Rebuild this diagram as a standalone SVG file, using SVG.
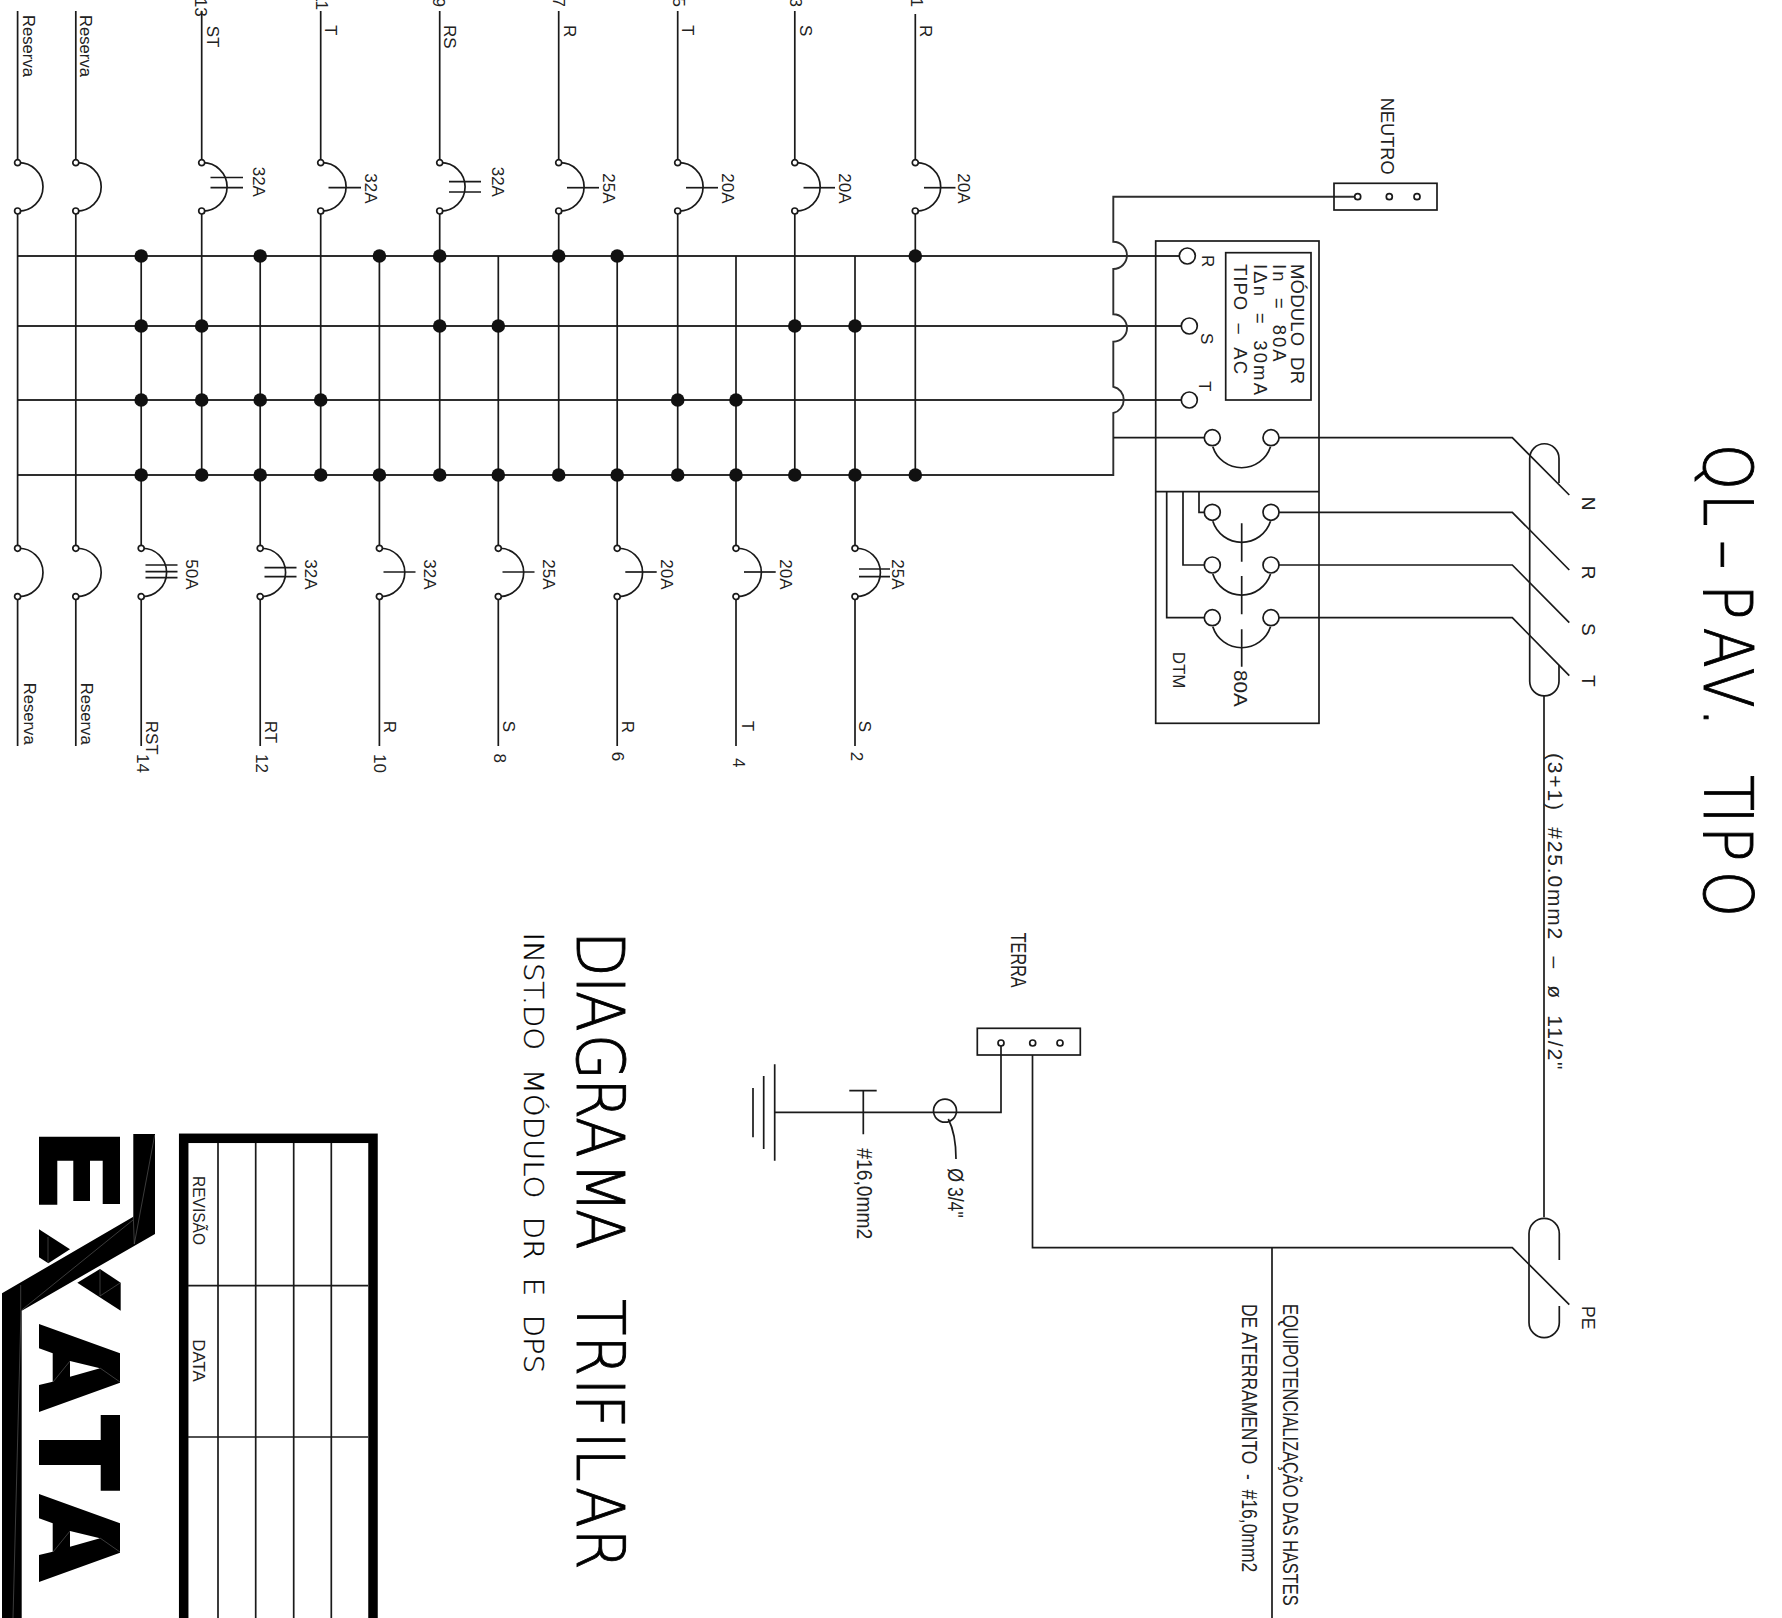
<svg xmlns="http://www.w3.org/2000/svg" width="1782" height="1618" viewBox="0 0 1782 1618">
<style>
text{font-family:"Liberation Sans",Arial,sans-serif;fill:#222;font-size:17px}
.w{fill:none;stroke:#1a1a1a;stroke-width:1.7}
.b{fill:none;stroke:#2e2e2e;stroke-width:1.9}
.d{fill:#111;stroke:none}
.o{fill:#fff;stroke:#1a1a1a;stroke-width:1.7}
.s18{font-size:18.5px}
.s19{font-size:19px}
.s22{font-size:22.5px}
.thin{font-family:"DejaVu Sans ExtraLight","DejaVu Sans",sans-serif;font-weight:200;fill:#000}
.k{fill:#000}
.h{fill:none;stroke:#777;stroke-width:.5}
</style>
<defs>
<g id="cb"><path class="w" d="M0 0A24.18 24.18 0 1 1 0 48.3"/><circle class="o" cx="0" cy="0" r="3"/><circle class="o" cx="0" cy="48.3" r="3"/></g>
<circle id="dot" class="d" r="6.8"/>
<g id="sw"><circle class="o" cx="0" cy="0" r="8"/><circle class="o" cx="58.7" cy="0" r="8"/><path class="w" d="M.5 9A30.3 30.3 0 0 0 58.2 9"/></g>
</defs>
<rect width="1782" height="1618" fill="#fff"/>

<g id="connectors">
<path class="b" d="M17.6 256H1179.3M17.6 326H1181.3M17.6 400H1181.3M17.6 475H1113.3V413A13.5 13.5 0 0 0 1113.3 386.7V341.7A13.5 13.5 0 0 0 1113.3 314.3V269A13.5 13.5 0 0 0 1113.3 241.7V196.7H1354.7"/>
<path class="w" d="M1113.3 437.7H1204.3M1279 437.7H1512.3L1569.3 495M1279 512.3H1512.3L1569.3 570M1279 565H1512.3L1569.3 622.7M1279 617.7H1512.3L1569.3 675.7"/>
<path class="w" d="M17.6 11V160M17.6 214V545M17.6 600V746M75.8 11V160M75.8 214V545M75.8 600V746M141.2 256V545M141.2 600V746M201.7 11V160M201.7 214V475M260.2 256V545M260.2 600V746M320.7 11V160M320.7 214V475M379.4 256V545M379.4 600V746M439.7 11V160M439.7 214V475M498.3 256V545M498.3 600V746M558.7 11V160M558.7 214V475M617.2 256V545M617.2 600V746M677.7 11V160M677.7 214V475M736 256V545M736 600V746M794.8 11V160M794.8 214V475M855 256V545M855 600V746M915.3 14V160M915.3 214V475"/>
<path class="w" d="M1544 696V1217.3M1032.5 1055V1247.7H1512.3L1569.3 1304.7M1272 1247.7V1618M1001 1046V1112.3H774.7"/>
<g>
<use href="#dot" x="141.2" y="256"/><use href="#dot" x="141.2" y="326"/><use href="#dot" x="141.2" y="400"/><use href="#dot" x="141.2" y="475"/>
<use href="#dot" x="201.7" y="326"/><use href="#dot" x="201.7" y="400"/><use href="#dot" x="201.7" y="475"/>
<use href="#dot" x="260.2" y="256"/><use href="#dot" x="260.2" y="400"/><use href="#dot" x="260.2" y="475"/>
<use href="#dot" x="320.7" y="400"/><use href="#dot" x="320.7" y="475"/>
<use href="#dot" x="379.4" y="256"/><use href="#dot" x="379.4" y="475"/>
<use href="#dot" x="439.7" y="256"/><use href="#dot" x="439.7" y="326"/><use href="#dot" x="439.7" y="475"/>
<use href="#dot" x="498.3" y="326"/><use href="#dot" x="498.3" y="475"/>
<use href="#dot" x="558.7" y="256"/><use href="#dot" x="558.7" y="475"/>
<use href="#dot" x="617.2" y="256"/><use href="#dot" x="617.2" y="475"/>
<use href="#dot" x="677.7" y="400"/><use href="#dot" x="677.7" y="475"/>
<use href="#dot" x="736" y="400"/><use href="#dot" x="736" y="475"/>
<use href="#dot" x="794.8" y="326"/><use href="#dot" x="794.8" y="475"/>
<use href="#dot" x="855" y="326"/><use href="#dot" x="855" y="475"/>
<use href="#dot" x="915.3" y="256"/><use href="#dot" x="915.3" y="475"/>
</g>
</g>

<g id="res-t1"><use href="#cb" x="17.6" y="162.7"/><text textLength="62" lengthAdjust="spacingAndGlyphs" transform="translate(23,15) rotate(90)">Reserva</text></g>
<g id="res-t2"><use href="#cb" x="75.8" y="162.7"/><text textLength="62" lengthAdjust="spacingAndGlyphs" transform="translate(79.6,15) rotate(90)">Reserva</text></g>
<g id="cb13"><use href="#cb" x="201.7" y="162.7"/><path class="w" d="M210.5 177.5H243M210.5 187.7H243"/><text text-anchor="end" transform="translate(195,16.7) rotate(90)">13</text><text transform="translate(206.7,25.7) rotate(90)">ST</text><text transform="translate(253.3,166.7) rotate(90)">32A</text></g>
<g id="cb11"><use href="#cb" x="320.7" y="162.7"/><path class="w" d="M328.5 187.7H361"/><text text-anchor="end" transform="translate(315.7,10) rotate(90)">11</text><text transform="translate(325,25) rotate(90)">T</text><text transform="translate(365,173.3) rotate(90)">32A</text></g>
<g id="cb9"><use href="#cb" x="439.7" y="162.7"/><path class="w" d="M449 181.7H481M449 192H481"/><text text-anchor="end" transform="translate(433,7) rotate(90)">9</text><text transform="translate(444,25) rotate(90)">RS</text><text transform="translate(491.8,166.7) rotate(90)">32A</text></g>
<g id="cb7"><use href="#cb" x="558.7" y="162.7"/><path class="w" d="M567 187.7H599"/><text text-anchor="end" transform="translate(553,7) rotate(90)">7</text><text transform="translate(563.7,25) rotate(90)">R</text><text transform="translate(603,173.3) rotate(90)">25A</text></g>
<g id="cb5"><use href="#cb" x="677.7" y="162.7"/><path class="w" d="M686 187.7H718"/><text text-anchor="end" transform="translate(672.7,7) rotate(90)">5</text><text transform="translate(682,25) rotate(90)">T</text><text transform="translate(721.7,173.3) rotate(90)">20A</text></g>
<g id="cb3"><use href="#cb" x="794.8" y="162.7"/><path class="w" d="M803.5 187.7H835"/><text text-anchor="end" transform="translate(790,7) rotate(90)">3</text><text transform="translate(800,25) rotate(90)">S</text><text transform="translate(839,173.3) rotate(90)">20A</text></g>
<g id="cb1"><use href="#cb" x="915.3" y="162.7"/><path class="w" d="M924 187.7H955.5"/><text text-anchor="end" transform="translate(910.8,7) rotate(90)">1</text><text transform="translate(919.5,25) rotate(90)">R</text><text transform="translate(957.8,173.3) rotate(90)">20A</text></g>

<g id="res-b1"><use href="#cb" x="17.6" y="548.3"/><text textLength="62" lengthAdjust="spacingAndGlyphs" transform="translate(23.5,682.7) rotate(90)">Reserva</text></g>
<g id="res-b2"><use href="#cb" x="75.8" y="548.3"/><text textLength="62" lengthAdjust="spacingAndGlyphs" transform="translate(80.5,682.7) rotate(90)">Reserva</text></g>
<g id="cb14"><use href="#cb" x="141.2" y="548.3"/><path class="w" d="M145.5 565H177.5M145.5 571.7H177.5M145.5 577.7H177.5"/><text transform="translate(146,720.7) rotate(90)">RST</text><text transform="translate(137,754) rotate(90)">14</text><text transform="translate(185.6,559.3) rotate(90)">50A</text></g>
<g id="cb12"><use href="#cb" x="260.2" y="548.3"/><path class="w" d="M264.5 567.7H296.5M264.5 576.7H296.5"/><text transform="translate(264.8,720.7) rotate(90)">RT</text><text transform="translate(255.6,754) rotate(90)">12</text><text transform="translate(305,559.3) rotate(90)">32A</text></g>
<g id="cb10"><use href="#cb" x="379.4" y="548.3"/><path class="w" d="M383.5 572H415.5"/><text transform="translate(384,720.7) rotate(90)">R</text><text transform="translate(374,754) rotate(90)">10</text><text transform="translate(423.6,559.3) rotate(90)">32A</text></g>
<g id="cb8"><use href="#cb" x="498.3" y="548.3"/><path class="w" d="M502.5 572H534.5"/><text transform="translate(503,720.7) rotate(90)">S</text><text transform="translate(493.7,753.5) rotate(90)">8</text><text transform="translate(542.7,559.3) rotate(90)">25A</text></g>
<g id="cb6"><use href="#cb" x="617.2" y="548.3"/><path class="w" d="M625.3 572H656.7"/><text transform="translate(621.7,720.7) rotate(90)">R</text><text transform="translate(612.3,751.7) rotate(90)">6</text><text transform="translate(661,559.3) rotate(90)">20A</text></g>
<g id="cb4"><use href="#cb" x="736" y="548.3"/><path class="w" d="M744 572H775.7"/><text transform="translate(741.7,720.7) rotate(90)">T</text><text transform="translate(732.7,758) rotate(90)">4</text><text transform="translate(780,559.3) rotate(90)">20A</text></g>
<g id="cb2"><use href="#cb" x="855" y="548.3"/><path class="w" d="M859 569H890M859 576.7H890"/><text transform="translate(859.3,720.7) rotate(90)">S</text><text transform="translate(850.7,751.7) rotate(90)">2</text><text transform="translate(892.3,559.3) rotate(90)">25A</text></g>

<g id="neutro">
<rect class="w" x="1334" y="183.3" width="103" height="26.7"/>
<circle class="o" cx="1357.7" cy="196.7" r="3"/><circle class="o" cx="1389.3" cy="196.7" r="3"/><circle class="o" cx="1417" cy="196.7" r="3"/>
<text textLength="77" lengthAdjust="spacingAndGlyphs" class="s18" transform="translate(1380.7,97.7) rotate(90)">NEUTRO</text>
</g>

<g id="modulo-dr">
<rect class="w" x="1155.7" y="241" width="163.3" height="482.3"/>
<path class="w" d="M1155.7 491.7H1319"/>
<rect class="w" x="1225.7" y="252.7" width="85.3" height="147.3"/>
<circle class="o" cx="1187.3" cy="256" r="8"/><circle class="o" cx="1189.3" cy="326" r="8"/><circle class="o" cx="1189.3" cy="400" r="8"/>
<text transform="translate(1201.7,255) rotate(90)">R</text><text transform="translate(1201,333) rotate(90)">S</text><text transform="translate(1199.3,381) rotate(90)">T</text>
<text class="s18" textLength="120" transform="translate(1290.7,264) rotate(90)">MÓDULO&#160;&#160;DR</text>
<text class="s18" textLength="97.7" transform="translate(1272.7,264) rotate(90)">In&#160;&#160;=&#160;&#160;80A</text>
<text class="s18" textLength="131" transform="translate(1254,264) rotate(90)">IΔn&#160;&#160;=&#160;&#160;30mA</text>
<text class="s18" textLength="110" transform="translate(1234.3,264) rotate(90)">TIPO&#160;&#160;–&#160;&#160;AC</text>
<use href="#sw" x="1212.3" y="437.7"/><use href="#sw" x="1212.3" y="512.3"/><use href="#sw" x="1212.3" y="565"/><use href="#sw" x="1212.3" y="617.7"/>
<path class="w" d="M1199 491.7V512.3H1204.3M1183 491.7V565H1204.3M1166.7 491.7V617.7H1204.3M1241.7 523.3V561.7M1241.7 576V614.3M1241.7 629.3V666.7"/>
<text class="s19" textLength="36.7" lengthAdjust="spacingAndGlyphs" transform="translate(1234.3,670) rotate(90)">80A</text>
<text transform="translate(1172.7,651.7) rotate(90)">DTM</text>
</g>

<g id="cabo">
<path class="w" d="M1559 483V458.4A14.65 14.65 0 0 0 1529.7 458.4V681.3A14.65 14.65 0 0 0 1559 681.3V665"/>
<text class="s19" transform="translate(1581.7,496.7) rotate(90)">N</text><text class="s19" transform="translate(1581.7,565.7) rotate(90)">R</text><text class="s19" transform="translate(1581.7,623) rotate(90)">S</text><text class="s19" transform="translate(1581.7,675) rotate(90)">T</text>
<text textLength="316.5" style="font-size:21px" transform="translate(1547.5,753) rotate(90)">(3+1)&#160;&#160;#25.0mm2&#160;&#160;–&#160;&#160;ø&#160;&#160;11/2"</text>
</g>

<g id="cabo-pe">
<path class="w" d="M1559.3 1260V1233.5A15.15 15.15 0 0 0 1529 1233.5V1322.5A15.15 15.15 0 0 0 1559.3 1322.5V1306"/>
<text class="s19" textLength="23.5" lengthAdjust="spacingAndGlyphs" transform="translate(1581.7,1306) rotate(90)">PE</text>
</g>

<g id="terra">
<rect class="w" x="977.3" y="1028.3" width="103" height="26.7"/>
<circle class="o" cx="1001" cy="1043" r="3"/><circle class="o" cx="1032.7" cy="1043" r="3"/><circle class="o" cx="1060" cy="1043" r="3"/>
<text class="s22" textLength="55" lengthAdjust="spacingAndGlyphs" transform="translate(1011,932.7) rotate(90)">TERRA</text>
</g>

<g id="aterramento">
<path class="w" d="M774.7 1064.3V1160.7M763.7 1076V1149M753 1088V1137.3M863.3 1090.7V1134.3M849.3 1090.7H876.7"/>
<circle cx="945" cy="1110.7" r="11.5" fill="none" stroke="#1a1a1a" stroke-width="1.7"/>
<path class="w" d="M948.3 1119C954 1130 956 1142 956 1159"/>
<text class="s22" textLength="91" lengthAdjust="spacingAndGlyphs" transform="translate(857.3,1148.3) rotate(90)">#16,0mm2</text>
<text class="s22" textLength="49.4" lengthAdjust="spacingAndGlyphs" transform="translate(948.3,1168.3) rotate(90)">Ø 3/4"</text>
<text class="s22" transform="translate(1282.7,1304) rotate(90) scale(.727,1)">EQUIPOTENCIALIZAÇÃO DAS HASTES</text>
<text class="s22" transform="translate(1241.7,1304) rotate(90) scale(.777,1)">DE ATERRAMENTO&#160;&#160;-&#160;&#160;#16,0mm2</text>
</g>

<g id="titulos">
<text class="thin" style="font-size:67px;stroke:#000;stroke-width:.9" x="0 56.6 109.4 159.4 208.8 254.2 300.3 336.7 376.5 412 434.4 485.2" transform="translate(1704.3,443.7) rotate(90) scale(.88,1)">QL–PAV. TIPO</text>
<text class="thin" style="font-size:66px;stroke:#000;stroke-width:.9" x="0 50 66.7 114.4 163.3 206.7 256.7 308.9 350 408.9 448.9 496.7 514.4 556 575 617.8 663.9" transform="translate(576.7,931) rotate(90) scale(.9,1)">DIAGRAMA TRIFILAR</text>
<text class="thin" style="font-size:26px;stroke:#000;stroke-width:.3" textLength="440.5" lengthAdjust="spacingAndGlyphs" transform="translate(524.3,932.6) rotate(90)">INST.DO&#160;&#160;MÓDULO&#160;&#160;DR&#160;&#160;E&#160;&#160;DPS</text>
</g>

<g id="revisao">
<rect x="183.7" y="1138.3" width="189.3" height="500" fill="none" stroke="#000" stroke-width="9.5"/>
<path class="w" d="M218 1143V1618M255.7 1143V1618M293.7 1143V1618M331.3 1143V1618M188 1285.7H368M188 1437H368"/>
<text textLength="69" lengthAdjust="spacingAndGlyphs" transform="translate(193.3,1176) rotate(90)">REVISÃO</text>
<text textLength="42.4" lengthAdjust="spacingAndGlyphs" transform="translate(193.3,1339.3) rotate(90)">DATA</text>
</g>

<g id="logo">
<path class="k" d="M39 1136.7H120V1204H102.7V1160.7H90V1201H73.3V1160.7H57.3V1204.7H39Z"/>
<path class="k" d="M133.3 1134H155V1234L21.7 1310.7V1618H2V1293.3L133.3 1216.7Z"/>
<path class="k" d="M39 1229.3L70 1249.3L48.3 1263.3L39 1257.3Z"/>
<path class="k" d="M100 1269L120.7 1282.7V1310.7L77.3 1282.7Z"/>
<path class="k" fill-rule="evenodd" d="M39 1324L120 1353.3V1382.7L39 1412V1385L52.7 1381.7V1353.3L39 1348.3ZM70 1361V1376.7L100 1368.3Z"/>
<path class="k" d="M100.7 1415H120V1490.7H100.7V1465H39V1440H100.7Z"/>
<path class="k" fill-rule="evenodd" d="M39 1494L120 1523.3V1552.7L39 1582V1555L52.7 1551.7V1523.3L39 1518.3ZM70 1531V1546.7L100 1538.3Z"/>
<path class="h" d="M154.7 1135L134.3 1244M133.3 1217L134.3 1244M133 1220L21.7 1310M20.7 1285V1310M21 1310L13 1618M48 1237V1263M100 1270V1296M120 1283L100 1296M53 1382L70 1361M120 1382L100 1368M53 1552L70 1531M120 1552L100 1538"/>
</g>
</svg>
